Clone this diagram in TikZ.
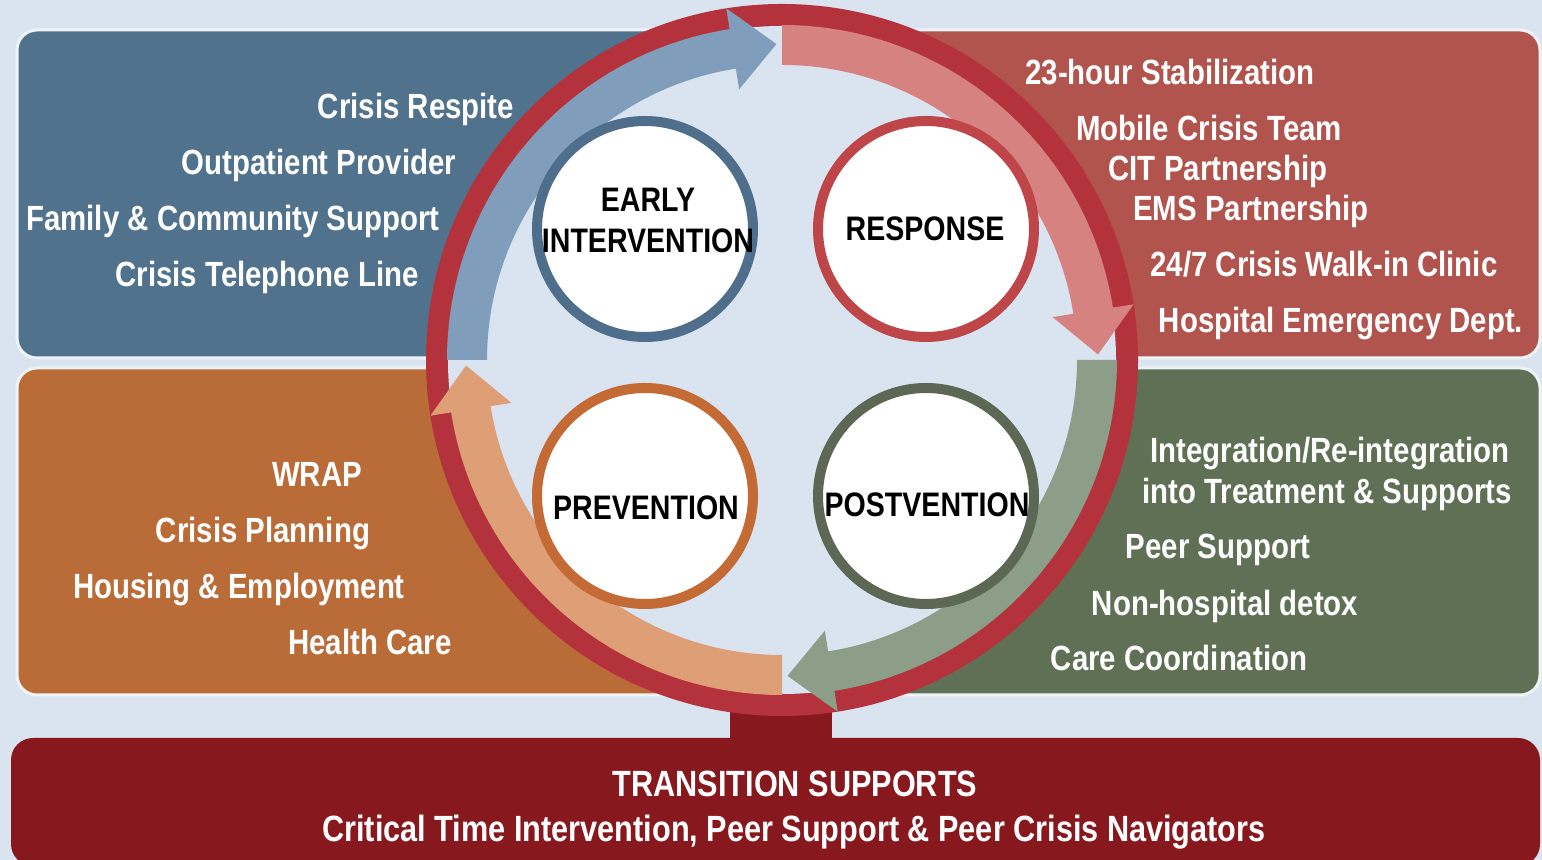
\documentclass[tikz,border=0pt]{standalone}
\usepackage{fontspec}
\setmainfont{Liberation Sans}[FakeStretch=0.84]
\definecolor{bg}{HTML}{DAE4F0}
\definecolor{rim}{HTML}{EEF3F8}
\definecolor{panelblue}{HTML}{50728D}
\definecolor{panelred}{HTML}{B2544E}
\definecolor{panelorange}{HTML}{BA6C38}
\definecolor{panelgreen}{HTML}{607054}
\definecolor{barred}{HTML}{87181E}
\definecolor{ringred}{HTML}{B4323C}
\definecolor{arrowblue}{HTML}{809EBC}
\definecolor{arrowpink}{HTML}{D68280}
\definecolor{arrowgreen}{HTML}{8C9E88}
\definecolor{arroworange}{HTML}{DE9E76}
\definecolor{earlyblue}{HTML}{4E6E8C}
\definecolor{responsered}{HTML}{BE4648}
\definecolor{preventionorange}{HTML}{C46A34}
\definecolor{postventiongreen}{HTML}{5C6854}

\begin{document}
\begin{tikzpicture}[
    x=0.5pt, y=0.5pt,
    every node/.style={inner sep=0pt, text height=12.5pt, text depth=0pt},
    item/.style={text=white, font=\fontsize{17.5}{20}\selectfont\bfseries},
    baritem/.style={text=white, font=\fontsize{18.25}{21}\selectfont\bfseries},
    panel/.style={rounded corners=10pt, draw=rim, line width=1.5pt},
    stage/.style={circle, fill=white, line width=5pt, minimum size=108pt},
    stagetext/.style={font=\fontsize{17}{20.5}\selectfont\bfseries, align=center}
]
\useasboundingbox (0,0) rectangle (1542,860);
\fill[bg] (0,0) rectangle (1542,860);

% Panels
\filldraw[panel, fill=panelblue] (17,502) rectangle (800,830);
\filldraw[panel, fill=panelred] (770,502) rectangle (1540,830);
\filldraw[panel, fill=panelorange] (17,165) rectangle (800,492);
\filldraw[panel, fill=panelgreen] (770,165) rectangle (1540,492);
\fill[barred, rounded corners=11pt] (11,-6) rectangle (1540,122);
\fill[barred] (730,118) rectangle (832,165);

% Ring and arrows
\coordinate (hub) at (782,500);
\fill[ringred] (hub) circle[radius=356];
\fill[bg] (hub) circle[radius=334];
\begin{scope}[shift={(hub)}]
\fill[arrowblue] (180:335) arc[start angle=180, end angle=99, radius=335] -- (99:356) -- (91:316) -- (99:274) -- (99:295) arc[start angle=99, end angle=180, radius=295] -- cycle;
\fill[arrowpink] (90:335) arc[start angle=90, end angle=9, radius=335] -- (9:356) -- (1:316) -- (9:274) -- (9:295) arc[start angle=9, end angle=90, radius=295] -- cycle;
\fill[arrowgreen] (0:335) arc[start angle=0, end angle=-81, radius=335] -- (-81:356) -- (-89:316) -- (-81:274) -- (-81:295) arc[start angle=-81, end angle=0, radius=295] -- cycle;
\fill[arroworange] (-90:335) arc[start angle=-90, end angle=-171, radius=335] -- (-171:356) -- (-179:316) -- (-171:274) -- (-171:295) arc[start angle=-171, end angle=-90, radius=295] -- cycle;
\end{scope}

% Stages
\node (early) [stage, draw=earlyblue] at (645,631) {};
\node (response) [stage, draw=responsered] at (926,631) {};
\node (prevention) [stage, draw=preventionorange] at (645,364) {};
\node (postvention) [stage, draw=postventiongreen] at (926,364) {};
\node (early text) [stagetext] at (648,620) {EARLY\\INTERVENTION};
\node (response text) [stagetext] at (925,632) {RESPONSE};
\node (prevention text) [stagetext] at (646,353) {PREVENTION};
\node (postvention text) [stagetext] at (927,356) {POSTVENTION};

% Services
\node (respite) [item] at (416,754) {Crisis Respite};
\node (outpatient) [item] at (319,698) {Outpatient Provider};
\node (family) [item] at (233,642) {Family \& Community Support};
\node (phone) [item] at (267,586) {Crisis Telephone Line};

\node (stabilization) [item] at (1170,788) {23-hour Stabilization};
\node (mobile) [item] at (1209,732) {Mobile Crisis Team};
\node (cit) [item] at (1218,692) {CIT Partnership};
\node (ems) [item] at (1251,652) {EMS Partnership};
\node (walkin) [item] at (1324,596) {24/7 Crisis Walk-in Clinic};
\node (hospital) [item] at (1341,540) {Hospital Emergency Dept.};

\node (wrap) [item] at (317,386) {WRAP};
\node (planning) [item] at (263,330) {Crisis Planning};
\node (housing) [item] at (239,274) {Housing \& Employment};
\node (health) [item] at (370,218) {Health Care};

\node (integration) [item] at (1330,410) {Integration/Re-integration};
\node (treatment) [item] at (1327,369) {into Treatment \& Supports};
\node (peer) [item] at (1218,314) {Peer Support};
\node (detox) [item] at (1225,257) {Non-hospital detox};
\node (coordination) [item] at (1179,202) {Care Coordination};

\node (transition) [baritem] at (795,76) {TRANSITION SUPPORTS};
\node (navigators) [baritem] at (794,31) {Critical Time Intervention, Peer Support \& Peer Crisis Navigators};
\end{tikzpicture}
\end{document}
